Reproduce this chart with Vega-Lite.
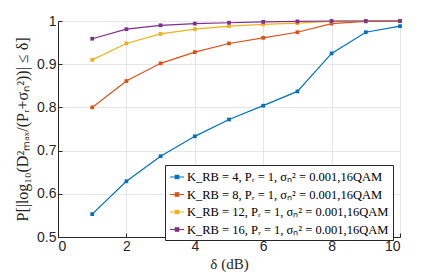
{
  "$schema": "https://vega.github.io/schema/vega-lite/v6.json",
  "width": 342,
  "height": 216,
  "autosize": "none",
  "padding": {"left": 58, "top": 21, "right": 43, "bottom": 41},
  "background": "white",
  "config": {
    "view": {"stroke": null},
    "axis": {
      "labelFont": "Liberation Sans",
      "labelFontSize": 14,
      "labelColor": "#262626",
      "domainColor": "#262626",
      "tickColor": "#262626",
      "gridColor": "#e6e6e6",
      "gridOpacity": 1,
      "tickSize": -4,
      "labelPadding": 6,
      "titleFont": "Liberation Serif",
      "titleFontWeight": "normal",
      "titleColor": "#262626",
      "titleFontSize": 15
    }
  },
  "data": {
    "values": [
      {"d": 1, "p": 0.553, "s": "K_RB = 4, Pᵣ = 1, σₙ² = 0.001,16QAM"},
      {"d": 2, "p": 0.629, "s": "K_RB = 4, Pᵣ = 1, σₙ² = 0.001,16QAM"},
      {"d": 3, "p": 0.687, "s": "K_RB = 4, Pᵣ = 1, σₙ² = 0.001,16QAM"},
      {"d": 4, "p": 0.733, "s": "K_RB = 4, Pᵣ = 1, σₙ² = 0.001,16QAM"},
      {"d": 5, "p": 0.772, "s": "K_RB = 4, Pᵣ = 1, σₙ² = 0.001,16QAM"},
      {"d": 6, "p": 0.804, "s": "K_RB = 4, Pᵣ = 1, σₙ² = 0.001,16QAM"},
      {"d": 7, "p": 0.837, "s": "K_RB = 4, Pᵣ = 1, σₙ² = 0.001,16QAM"},
      {"d": 8, "p": 0.925, "s": "K_RB = 4, Pᵣ = 1, σₙ² = 0.001,16QAM"},
      {"d": 9, "p": 0.974, "s": "K_RB = 4, Pᵣ = 1, σₙ² = 0.001,16QAM"},
      {"d": 10, "p": 0.988, "s": "K_RB = 4, Pᵣ = 1, σₙ² = 0.001,16QAM"},
      {"d": 1, "p": 0.800, "s": "K_RB = 8, Pᵣ = 1, σₙ² = 0.001,16QAM"},
      {"d": 2, "p": 0.861, "s": "K_RB = 8, Pᵣ = 1, σₙ² = 0.001,16QAM"},
      {"d": 3, "p": 0.902, "s": "K_RB = 8, Pᵣ = 1, σₙ² = 0.001,16QAM"},
      {"d": 4, "p": 0.928, "s": "K_RB = 8, Pᵣ = 1, σₙ² = 0.001,16QAM"},
      {"d": 5, "p": 0.948, "s": "K_RB = 8, Pᵣ = 1, σₙ² = 0.001,16QAM"},
      {"d": 6, "p": 0.961, "s": "K_RB = 8, Pᵣ = 1, σₙ² = 0.001,16QAM"},
      {"d": 7, "p": 0.974, "s": "K_RB = 8, Pᵣ = 1, σₙ² = 0.001,16QAM"},
      {"d": 8, "p": 0.994, "s": "K_RB = 8, Pᵣ = 1, σₙ² = 0.001,16QAM"},
      {"d": 9, "p": 0.999, "s": "K_RB = 8, Pᵣ = 1, σₙ² = 0.001,16QAM"},
      {"d": 10, "p": 1.0, "s": "K_RB = 8, Pᵣ = 1, σₙ² = 0.001,16QAM"},
      {"d": 1, "p": 0.910, "s": "K_RB = 12, Pᵣ = 1, σₙ² = 0.001,16QAM"},
      {"d": 2, "p": 0.948, "s": "K_RB = 12, Pᵣ = 1, σₙ² = 0.001,16QAM"},
      {"d": 3, "p": 0.970, "s": "K_RB = 12, Pᵣ = 1, σₙ² = 0.001,16QAM"},
      {"d": 4, "p": 0.981, "s": "K_RB = 12, Pᵣ = 1, σₙ² = 0.001,16QAM"},
      {"d": 5, "p": 0.988, "s": "K_RB = 12, Pᵣ = 1, σₙ² = 0.001,16QAM"},
      {"d": 6, "p": 0.992, "s": "K_RB = 12, Pᵣ = 1, σₙ² = 0.001,16QAM"},
      {"d": 7, "p": 0.995, "s": "K_RB = 12, Pᵣ = 1, σₙ² = 0.001,16QAM"},
      {"d": 8, "p": 0.999, "s": "K_RB = 12, Pᵣ = 1, σₙ² = 0.001,16QAM"},
      {"d": 9, "p": 1.0, "s": "K_RB = 12, Pᵣ = 1, σₙ² = 0.001,16QAM"},
      {"d": 10, "p": 1.0, "s": "K_RB = 12, Pᵣ = 1, σₙ² = 0.001,16QAM"},
      {"d": 1, "p": 0.959, "s": "K_RB = 16, Pᵣ = 1, σₙ² = 0.001,16QAM"},
      {"d": 2, "p": 0.981, "s": "K_RB = 16, Pᵣ = 1, σₙ² = 0.001,16QAM"},
      {"d": 3, "p": 0.990, "s": "K_RB = 16, Pᵣ = 1, σₙ² = 0.001,16QAM"},
      {"d": 4, "p": 0.994, "s": "K_RB = 16, Pᵣ = 1, σₙ² = 0.001,16QAM"},
      {"d": 5, "p": 0.996, "s": "K_RB = 16, Pᵣ = 1, σₙ² = 0.001,16QAM"},
      {"d": 6, "p": 0.998, "s": "K_RB = 16, Pᵣ = 1, σₙ² = 0.001,16QAM"},
      {"d": 7, "p": 0.999, "s": "K_RB = 16, Pᵣ = 1, σₙ² = 0.001,16QAM"},
      {"d": 8, "p": 1.0, "s": "K_RB = 16, Pᵣ = 1, σₙ² = 0.001,16QAM"},
      {"d": 9, "p": 1.0, "s": "K_RB = 16, Pᵣ = 1, σₙ² = 0.001,16QAM"},
      {"d": 10, "p": 1.0, "s": "K_RB = 16, Pᵣ = 1, σₙ² = 0.001,16QAM"}
    ]
  },
  "mark": {"type": "line", "strokeWidth": 1.2, "point": {"shape": "square", "filled": true, "size": 14}},
  "encoding": {
    "x": {
      "field": "d", "type": "quantitative",
      "scale": {"domain": [0, 10], "nice": false},
      "axis": {"values": [0, 2, 4, 6, 8, 10], "format": "d", "title": "δ (dB)", "titlePadding": 3}
    },
    "y": {
      "field": "p", "type": "quantitative",
      "scale": {"domain": [0.5, 1], "nice": false, "zero": false},
      "axis": {"values": [0.5, 0.6, 0.7, 0.8, 0.9, 1], "format": "~f", "title": "P[|log₁₀(D²ₘₐₓ/(Pᵣ+σₙ²))| ≤ δ]", "titlePadding": 6, "titleFontSize": 16, "labelFlush": false}
    },
    "color": {
      "field": "s", "type": "nominal",
      "sort": null,
      "scale": {"range": ["#0072BD", "#D95319", "#EDB120", "#7E2F8E"]},
      "legend": {
        "title": null,
        "orient": "none",
        "legendX": 107,
        "legendY": 144,
        "strokeColor": "#262626",
        "fillColor": "white",
        "padding": 4,
        "labelFont": "Liberation Serif",
        "labelFontSize": 12.5,
        "labelColor": "#000000",
        "labelLimit": 400,
        "rowPadding": 2.5,
        "symbolType": "M-1,0L1,0M-0.25,-0.25L0.25,-0.25L0.25,0.25L-0.25,0.25Z",
        "symbolSize": 200,
        "symbolStrokeWidth": 1.2,
        "labelOffset": 2
      }
    }
  }
}
